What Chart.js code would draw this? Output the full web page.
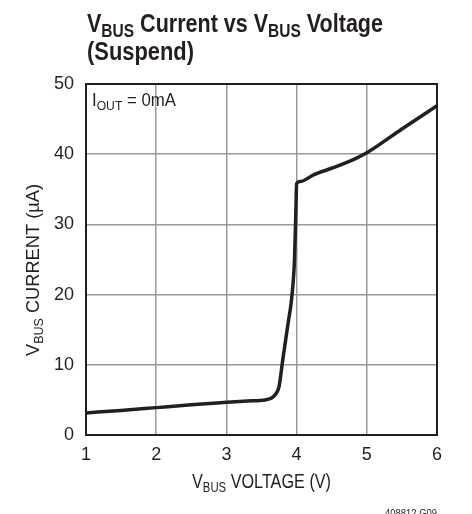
<!DOCTYPE html>
<html>
<head>
<meta charset="utf-8">
<script src="https://cdn.jsdelivr.net/npm/chart.js@4.4.1/dist/chart.umd.min.js"></script>
<style>
html, body { margin: 0; padding: 0; background: #fff; }
#wrap { width: 472px; height: 514px; position: relative; }
</style>
</head>
<body>
<div id="wrap"><canvas id="chart"></canvas></div>
<script>
// VBUS current vs VBUS voltage (suspend), IOUT = 0mA
const voltage = [1, 1.5, 2, 2.5, 3, 3.3, 3.55, 3.65, 3.7, 3.75, 3.8, 3.88, 3.93, 3.97, 3.99, 4.0, 4.05, 4.25, 4.5, 4.8, 5.0, 5.5, 6.0];
const current = [3.15, 3.5, 3.9, 4.3, 4.65, 4.85, 5.0, 5.3, 5.8, 6.9, 10.5, 16, 19.5, 25, 32, 35.8, 36.1, 37.1, 38.0, 39.2, 40.2, 43.6, 46.9];
const xRange = [1, 6];
const yRange = [0, 50];

const FONT = '"Liberation Sans", Arial, sans-serif';
const INK = '#231f20';

// draws text made of normal and subscript pieces, squeezed to a given width
function richText(ctx, parts, x, y, size, weight, align, width) {
  const subSize = Math.round(size * 0.7);
  let w = 0;
  parts.forEach(p => {
    ctx.font = weight + ' ' + (p.sub ? subSize : size) + 'px ' + FONT;
    p.w = ctx.measureText(p.t).width;
    w += p.w;
  });
  const sx = width ? width / w : 1;
  ctx.save();
  ctx.translate(align === 'center' ? x - w * sx / 2 : x, y);
  ctx.scale(sx, 1);
  ctx.textAlign = 'left';
  ctx.textBaseline = 'alphabetic';
  let cx = 0;
  parts.forEach(p => {
    ctx.font = weight + ' ' + (p.sub ? subSize : size) + 'px ' + FONT;
    ctx.fillText(p.t, cx, p.sub ? size * 0.2 : 0);
    cx += p.w;
  });
  ctx.restore();
}

const decor = {
  id: 'decor',
  afterDraw(chart) {
    const ctx = chart.ctx;
    const a = chart.chartArea;
    ctx.save();
    // frame
    ctx.strokeStyle = INK;
    ctx.lineWidth = 2;
    ctx.strokeRect(a.left, a.top, a.right - a.left, a.bottom - a.top);
    ctx.fillStyle = INK;
    // title
    richText(ctx, [{t: 'V'}, {t: 'BUS', sub: true}, {t: ' Current vs V'}, {t: 'BUS', sub: true}, {t: ' Voltage'}], 87, 32, 25, 'bold', 'left', 296);
    richText(ctx, [{t: '(Suspend)'}], 87, 60, 25, 'bold', 'left', 107);
    // condition label
    richText(ctx, [{t: 'I'}, {t: 'OUT', sub: true}, {t: ' = 0mA'}], 92, 106, 18, 'normal', 'left', 84);
    // x axis title
    richText(ctx, [{t: 'V'}, {t: 'BUS', sub: true}, {t: ' VOLTAGE (V)'}], (a.left + a.right) / 2, 488, 20, 'normal', 'center', 139);
    // y axis title
    ctx.save();
    ctx.translate(39, 270);
    ctx.rotate(-Math.PI / 2);
    richText(ctx, [{t: 'V'}, {t: 'BUS', sub: true}, {t: ' CURRENT (\u00b5A)'}], 0, 0, 19, 'normal', 'center', 172);
    ctx.restore();
    // figure code
    richText(ctx, [{t: '408812 G09'}], 385, 517, 11, 'normal', 'left', 52);
    ctx.restore();
  }
};

new Chart(document.getElementById('chart'), {
  type: 'line',
  data: {
    datasets: [{
      data: voltage.map((v, i) => ({x: v, y: current[i]})),
      borderColor: INK,
      borderWidth: 3.5,
      pointRadius: 0,
      fill: false,
      cubicInterpolationMode: 'monotone'
    }]
  },
  options: {
    responsive: true,
    maintainAspectRatio: false,
    animation: false,
    layout: { padding: { left: 0, right: 35, top: 84, bottom: 0 } },
    plugins: { legend: { display: false }, tooltip: { enabled: false } },
    scales: {
      x: {
        type: 'linear',
        min: xRange[0],
        max: xRange[1],
        ticks: { stepSize: 1, color: INK, padding: 9, font: { family: FONT, size: 18 } },
        grid: { color: '#9a9a9a', lineWidth: 1.5, drawTicks: false },
        border: { display: false },
        afterFit(scale) { scale.height = 79; }
      },
      y: {
        min: yRange[0],
        max: yRange[1],
        ticks: { stepSize: 10, color: INK, padding: 12, font: { family: FONT, size: 18 } },
        grid: { color: '#9a9a9a', lineWidth: 1.5, drawTicks: false },
        border: { display: false },
        afterFit(scale) { scale.width = 86; }
      }
    }
  },
  plugins: [decor]
});
</script>
</body>
</html>
